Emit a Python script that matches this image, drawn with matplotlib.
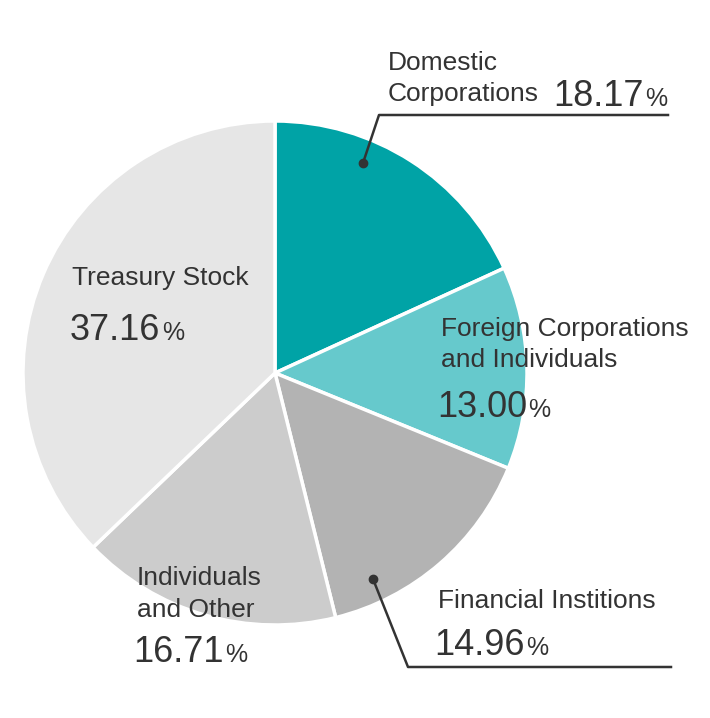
import matplotlib.pyplot as plt

plt.rcParams["font.family"] = ["Liberation Sans", "DejaVu Sans"]

names = ["Domestic\nCorporations", "Foreign Corporations\nand Individuals",
         "Financial Institions", "Individuals\nand Other", "Treasury Stock"]
shares = [18.17, 13.00, 14.96, 16.71, 37.16]
colors = ["#00a3a6", "#66c9cc", "#b3b3b3", "#cccccc", "#e6e6e6"]

W, H = 710, 718
txt = "#333333"

fig = plt.figure(figsize=(W / 100, H / 100), dpi=100)
ax = fig.add_axes([0, 0, 1, 1])

# pie, pixel coordinates (y measured from the top)
ax.pie(shares, colors=colors, startangle=90, counterclock=False,
       center=(275, H - 373), radius=252,
       wedgeprops=dict(edgecolor="white", linewidth=2.5))

ax.set_xlim(0, W)
ax.set_ylim(0, H)
ax.set_aspect("equal")
ax.axis("off")


def add_label(x, ys, name, nx, ny, value):
    for line, y in zip(name.split("\n"), ys):
        ax.text(x, H - y, line, fontsize=19, color=txt, va="baseline")
    num = ax.text(nx, H - ny, f"{value:.2f}", fontsize=26, color=txt, va="baseline")
    ax.annotate("%", xy=(1, H - ny), xycoords=(num, "data"), xytext=(1, 0),
                textcoords="offset points", fontsize=18, color=txt, va="baseline")


add_label(388, [70, 101], names[0], 553, 106, shares[0])
add_label(441, [336, 367], names[1], 437, 417, shares[1])
add_label(438, [608], names[2], 434, 655, shares[2])
add_label(137, [585, 617], names[3], 133, 662, shares[3])
add_label(72, [285], names[4], 70, 340, shares[4])

# leader lines
ax.plot([668, 379, 363], [H - 115, H - 115, H - 163], color=txt, lw=1.8)
ax.plot(363, H - 163, "o", color=txt, ms=6)
ax.plot([373, 408, 671], [H - 579, H - 667, H - 667], color=txt, lw=1.8)
ax.plot(373, H - 579, "o", color=txt, ms=6)

fig.savefig("out.png", dpi=100)
